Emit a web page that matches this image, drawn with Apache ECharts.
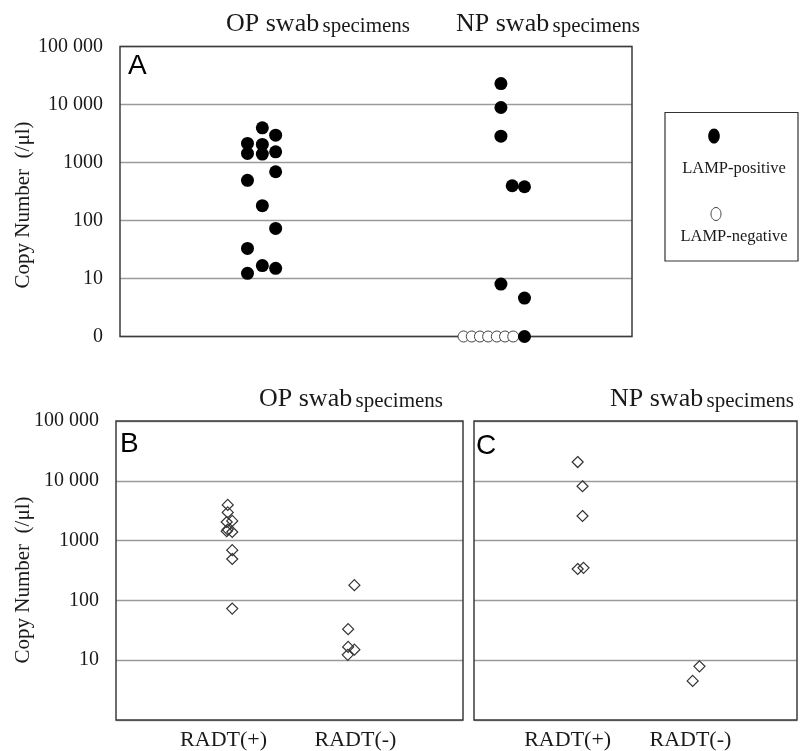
<!DOCTYPE html>
<html><head><meta charset="utf-8">
<script src="https://cdn.jsdelivr.net/npm/echarts@6/dist/echarts.min.js"></script>
<style>html,body{margin:0;padding:0;background:#fff}#c{width:800px;height:751px}</style>
</head><body><div id="c"></div>
<script>
// ---------------- data ----------------
const yTickValues = [1, 10, 100, 1000, 10000, 100000];
const yTickTextA  = ['0', '10', '100', '1000', '10 000', '100 000'];
const yTickTextBC = ['', '10', '100', '1000', '10 000', '100 000'];
const radtCategories = ['RADT(+)', 'RADT(-)'];
const legendLabels = ['LAMP-positive', 'LAMP-negative'];
const panelTitles = ['OP swab', 'NP swab'];
const titleSuffix = 'specimens';
const yName = 'Copy Number  (/\u03bcl)';

// Panel A: copy numbers (log scale, "0" plotted at 1) and horizontal jitter (0-100 across panel)
const opLampPosValues = [3955, 2963, 2133, 2048, 1435, 1395, 1528, 692, 492, 180, 73, 33, 16.7, 15, 12.3];
const opLampPosJitter = [27.8, 30.4, 24.9, 27.8, 24.9, 27.8, 30.4, 30.4, 24.9, 27.8, 30.4, 24.9, 27.8, 30.4, 24.9];
const npLampPosValues = [22970, 8880, 2846, 397, 382, 8.0, 4.6, 1];
const npLampPosJitter = [74.4, 74.4, 74.4, 76.6, 79.0, 74.4, 79.0, 79.0];
const npLampNegValues = [1, 1, 1, 1, 1, 1, 1];
const npLampNegJitter = [67.1, 68.7, 70.3, 71.9, 73.6, 75.2, 76.8];

// Panel B (OP swab) by RADT result
const bRadtPosValues = [3955, 2963, 2133, 2048, 1528, 1435, 1395, 692, 492, 73];
const bRadtPosJitter = [32.2, 32.2, 33.5, 31.9, 32.2, 31.9, 33.5, 33.5, 33.5, 33.5];
const bRadtNegValues = [180, 33, 16.7, 15, 12.3];
const bRadtNegJitter = [68.7, 66.9, 66.9, 68.7, 66.8];

// Panel C (NP swab) by RADT result
const cRadtPosValues = [20600, 8100, 2580, 335, 350];
const cRadtPosJitter = [32.1, 33.6, 33.6, 32.1, 33.9];
const cRadtNegValues = [7.9, 4.5];
const cRadtNegJitter = [69.8, 67.7];

// ---------------- styling / layout ----------------
const SERIF = '"Liberation Serif", "Times New Roman", serif';
const SANS = '"Liberation Sans", Arial, sans-serif';
const TXT = '#1a1a1a';
const catPosB = [31, 69];
const catPosC = [29, 67];

const zip = (xs, ys) => xs.map((x, i) => [x, ys[i]]);

function yAxisCfg(gridIndex, labels, showLabels, showName, padShift, gap) {
  return {
    type: 'log', logBase: 10, min: 1, max: 100000, gridIndex,
    axisLine: { show: false }, axisTick: { show: false },
    splitLine: { show: true, lineStyle: { color: '#9a9a9a', width: 1.3 } },
    axisLabel: {
      show: showLabels, margin: 17, fontFamily: SERIF, fontSize: 20, color: TXT,
      formatter: v => {
        const i = yTickValues.findIndex(t => Math.abs(Math.log10(t) - Math.log10(v)) < 1e-6);
        return i >= 0 ? labels[i] : '';
      }
    },
    name: showName ? yName : '', nameLocation: 'middle', nameGap: gap, nameMoveOverlap: false,
    nameTextStyle: { fontFamily: SERIF, fontSize: 21, color: TXT, padding: [0, padShift, 0, 0] }
  };
}
function xAxisCfg(gridIndex, positions, showLabels) {
  return {
    type: 'value', min: 0, max: 100, interval: 1, gridIndex,
    axisLine: { show: false }, axisTick: { show: false }, splitLine: { show: false },
    axisLabel: {
      show: showLabels, margin: 9, fontFamily: SERIF, fontSize: 22, color: TXT,
      formatter: v => { const i = positions.indexOf(Math.round(v)); return i >= 0 ? radtCategories[i] : ''; }
    }
  };
}
const gridBase = { show: true, borderColor: '#3c3c3c', borderWidth: 1.5, backgroundColor: 'transparent', z: 1 };

const filledDot = { symbol: 'circle', symbolSize: 13, itemStyle: { color: '#000', opacity: 1 } };
const hollowDot = { symbol: 'circle', symbolSize: 11, itemStyle: { color: '#fff', borderColor: '#444', borderWidth: 1, opacity: 1 } };
const diamond = { symbol: 'diamond', symbolSize: 11, itemStyle: { color: 'rgba(255,255,255,0)', borderColor: '#333', borderWidth: 1.2, opacity: 1 } };

function titleText(x, y, main) {
  return {
    type: 'text', x, y, z: 10,
    style: {
      text: '{a|' + main + '} {b|' + titleSuffix + '}', align: 'center', verticalAlign: 'middle',
      rich: {
        a: { fontFamily: SERIF, fontSize: 26, fill: TXT, verticalAlign: 'bottom' },
        b: { fontFamily: SERIF, fontSize: 21, fill: TXT, verticalAlign: 'bottom' }
      }
    }
  };
}
function letter(x, y, t) {
  return { type: 'text', x, y, z: 10, style: { text: t, fontFamily: SANS, fontSize: 28, fill: '#000', verticalAlign: 'middle' } };
}

const option = {
  animation: false,
  backgroundColor: '#fff',
  grid: [
    Object.assign({ left: 120, top: 46.5, width: 512, height: 290 }, gridBase),
    Object.assign({ left: 116, top: 421, width: 347, height: 299 }, gridBase),
    Object.assign({ left: 474, top: 421, width: 330, height: 299 }, gridBase)
  ],
  xAxis: [xAxisCfg(0, [], false), xAxisCfg(1, catPosB, true), xAxisCfg(2, catPosC, true)],
  yAxis: [yAxisCfg(0, yTickTextA, true, true, 27, 86), yAxisCfg(1, yTickTextBC, true, true, 19, 82), yAxisCfg(2, yTickTextBC, false, false, 0, 10)],
  series: [
    Object.assign({ type: 'scatter', name: 'OP LAMP+', xAxisIndex: 0, yAxisIndex: 0, clip: false, data: zip(opLampPosJitter, opLampPosValues) }, filledDot),
    Object.assign({ type: 'scatter', name: 'NP LAMP-', xAxisIndex: 0, yAxisIndex: 0, clip: false, data: zip(npLampNegJitter, npLampNegValues) }, hollowDot),
    Object.assign({ type: 'scatter', name: 'NP LAMP+', xAxisIndex: 0, yAxisIndex: 0, clip: false, z: 3, data: zip(npLampPosJitter, npLampPosValues) }, filledDot),
    Object.assign({ type: 'scatter', name: 'B RADT+', xAxisIndex: 1, yAxisIndex: 1, clip: false, data: zip(bRadtPosJitter, bRadtPosValues) }, diamond),
    Object.assign({ type: 'scatter', name: 'B RADT-', xAxisIndex: 1, yAxisIndex: 1, clip: false, data: zip(bRadtNegJitter, bRadtNegValues) }, diamond),
    Object.assign({ type: 'scatter', name: 'C RADT+', xAxisIndex: 2, yAxisIndex: 2, clip: false, data: zip(cRadtPosJitter, cRadtPosValues) }, diamond),
    Object.assign({ type: 'scatter', name: 'C RADT-', xAxisIndex: 2, yAxisIndex: 2, clip: false, data: zip(cRadtNegJitter, cRadtNegValues) }, diamond)
  ],
  graphic: [
    titleText(318, 24, panelTitles[0]),
    titleText(548, 24, panelTitles[1]),
    titleText(351, 399, panelTitles[0]),
    titleText(702, 399, panelTitles[1]),
    letter(128, 66, 'A'),
    letter(120, 444, 'B'),
    letter(476, 446, 'C'),
    // legend box
    { type: 'rect', z: 10, shape: { x: 665, y: 112.5, width: 133, height: 148.5 }, style: { fill: '#fff', stroke: '#333', lineWidth: 1.2 } },
    { type: 'ellipse', z: 11, shape: { cx: 714, cy: 136, rx: 5.8, ry: 7.6 }, style: { fill: '#000' } },
    { type: 'text', z: 11, x: 734, y: 169, style: { text: legendLabels[0], fontFamily: SERIF, fontSize: 16.5, fill: TXT, align: 'center', verticalAlign: 'middle' } },
    { type: 'ellipse', z: 11, shape: { cx: 716, cy: 214, rx: 5, ry: 6.5 }, style: { fill: '#fff', stroke: '#444', lineWidth: 1 } },
    { type: 'text', z: 11, x: 734, y: 237, style: { text: legendLabels[1], fontFamily: SERIF, fontSize: 16.5, fill: TXT, align: 'center', verticalAlign: 'middle' } }
  ]
};
const chart = echarts.init(document.getElementById('c'), null, { renderer: 'canvas' });
chart.setOption(option);
</script>
</body></html>
